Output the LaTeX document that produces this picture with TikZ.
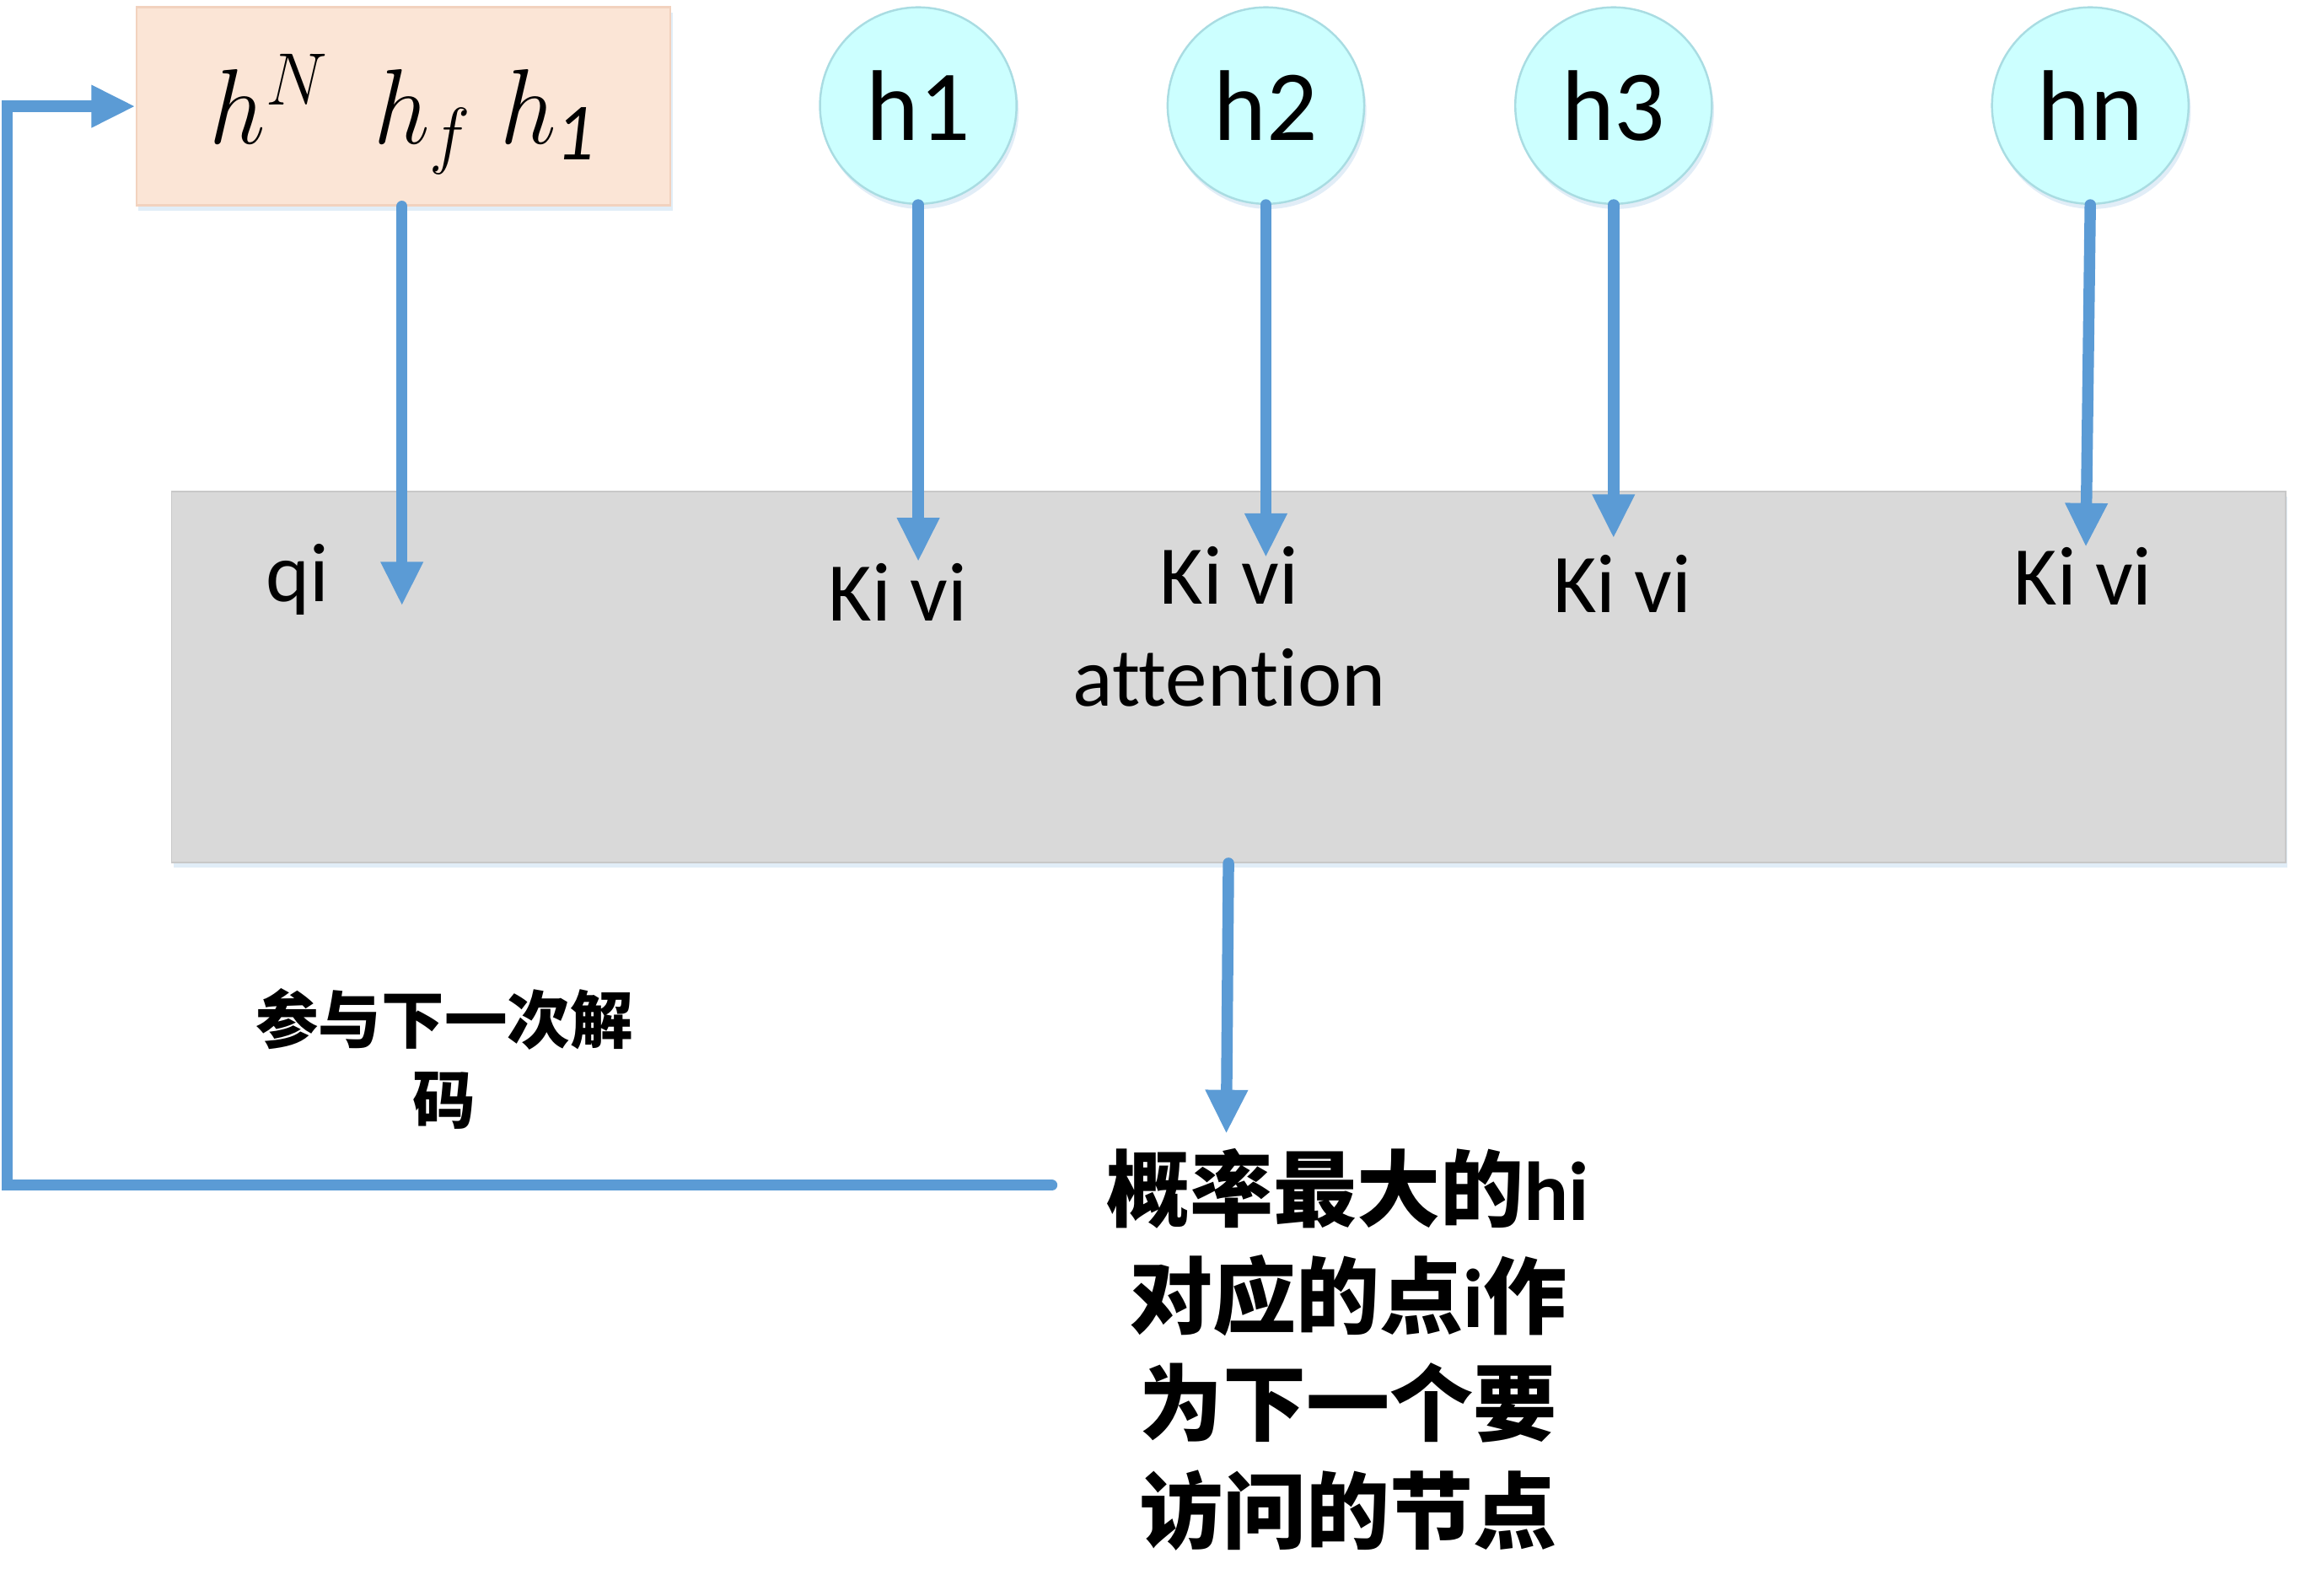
\documentclass[tikz,border=0pt]{standalone}
\usepackage{fontspec}
\setmainfont{Carlito}[Ligatures=CommonOff]
\newfontfamily\cjk{Noto Sans CJK SC}
\newcommand{\zh}[1]{{\cjk #1}}
\usetikzlibrary{arrows.meta,shadows}
\definecolor{arrowblue}{HTML}{5B9BD5}
\definecolor{peach}{HTML}{FBE5D6}
\definecolor{peachline}{HTML}{F2D2BE}
\definecolor{cyanfill}{HTML}{CCFFFF}
\definecolor{cyanline}{HTML}{A9DCE2}
\definecolor{boxgray}{HTML}{D9D9D9}
\tikzset{
	softshadow/.style={drop shadow={shadow xshift=0.015cm, shadow yshift=-0.035cm, fill=arrowblue, opacity=0.18}},
	hbox/.style={rectangle, fill=peach, draw=peachline, line width=0.4pt, minimum width=3.64cm, minimum height=1.35cm, inner sep=0pt, softshadow},
	hmath/.style={inner sep=0pt, font=\fontsize{22.5}{26}\selectfont},
	hcircle/.style={circle, fill=cyanfill, draw=cyanline, line width=0.4pt, minimum size=1.34cm, inner sep=0pt, font=\fontsize{19.5}{22}\selectfont, softshadow},
	attbox/.style={rectangle, fill=boxgray, draw=boxgray!92!black, line width=0.3pt, minimum width=14.41cm, minimum height=2.53cm, inner sep=0pt, softshadow},
	kvtext/.style={inner sep=0pt, font=\fontsize{16.2}{19}\selectfont},
	zhsmall/.style={inner sep=0pt, align=center, font=\bfseries\fontsize{12.2}{15.6}\selectfont},
	zhbig/.style={inner sep=0pt, align=center, font=\bfseries\fontsize{16.2}{20.8}\selectfont},
	link/.style={draw=arrowblue, line width=2.2pt, line cap=round, -{Triangle[width=0.27cm,length=0.3cm]}}
}
\begin{document}
\begin{tikzpicture}
		\useasboundingbox (0,0) rectangle (15.68,10.88);

		\node[attbox] (att) at (8.375, 6.265) {};

		\node[hbox] (hvec) at (2.75, 10.155) {};
		\node[hmath] (hvectext) at (2.75, 10.10) {\scalebox{0.93}[1]{$h^{N}\;\,h_{f}\;h_{\mathit{1}}$}};

		\node[hcircle] (h1) at (6.26, 10.16) {h1};
		\node[hcircle] (h2) at (8.63, 10.16) {h2};
		\node[hcircle] (h3) at (11.00, 10.16) {h3};
		\node[hcircle] (hn) at (14.25, 10.16) {hn};

		\node[kvtext] (qi) at (2.03, 6.93) {qi};
		\node[kvtext] (kv1) at (6.12, 6.84) {Ki vi};
		\node[kvtext] (kv2) at (8.38, 6.96) {Ki vi};
		\node[kvtext] (kv3) at (11.06, 6.90) {Ki vi};
		\node[kvtext] (kvn) at (14.20, 6.95) {Ki vi};
		\node[kvtext] (attn) at (8.38, 6.26) {attention};

		\node[zhsmall] (next) at (3.03, 3.66) {\zh{参与下一次解}\\\zh{码}};
		\node[zhbig] (out) at (9.19, 1.68) {\zh{概率最大的}hi\\\zh{对应的点}i\zh{作}\\\zh{为下一个要}\\\zh{访问的节点}};

		\coordinate (qtip) at (2.74, 6.75);
		\coordinate (tip1) at (6.26, 7.05);
		\coordinate (tip2) at (8.63, 7.08);
		\coordinate (tip3) at (11.00, 7.21);
		\coordinate (tipn) at (14.22, 7.15);
		\coordinate (outtip) at (8.36, 3.15);
		\coordinate (fbstart) at (7.17, 2.80);

		\draw[link] (qtip |- hvec.south) -- (qtip);
		\draw[link] (h1.south) -- (tip1);
		\draw[link] (h2.south) -- (tip2);
		\draw[link] (h3.south) -- (tip3);
		\draw[link] (hn.south) -- (tipn);
		\draw[link] (att.south) -- (outtip);
		\draw[link] (fbstart) -- ++(-7.12, 0) |- (hvec.west);
	\end{tikzpicture}
\end{document}
